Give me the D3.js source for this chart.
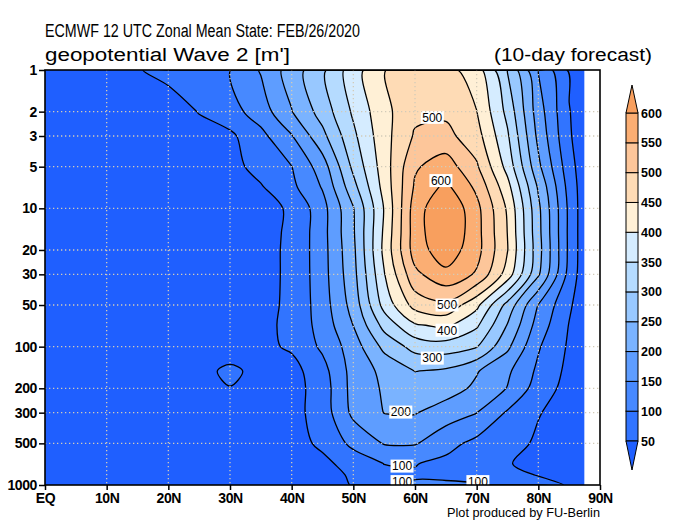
<!DOCTYPE html>
<html>
<head>
<meta charset="utf-8">
<script src="https://cdn.jsdelivr.net/npm/d3@7"></script>
<style>
  body { margin: 0; background: #fff; }
  text { font-family: "Liberation Sans", Arial, sans-serif; }
</style>
</head>
<body>
<svg id="chart" width="680" height="525"></svg>
<script>
// grid columns (deg N) and rows (hPa)
const lats = [0, 5, 10, 15, 20, 25, 30, 35, 40, 45, 50, 55, 60, 65, 70, 75, 80, 85, 87.5];
const levels = [1, 2, 3, 5, 7, 10, 15, 20, 30, 50, 70, 100, 150, 200, 300, 500, 700, 850, 1000];

// wave 2 geopotential amplitude [m], one row per level
const amp = [
  [10, 23, 35, 47, 64, 82, 99, 154, 223, 290, 377, 448, 483, 467, 424, 297, 148, 43, 20],   // 1
  [8, 12, 16, 21, 27, 52, 81, 124, 198, 271, 358, 436, 488, 490, 451, 336, 174, 52, 25],    // 2
  [8, 12, 17, 22, 28, 33, 40, 86, 147, 236, 339, 432, 506, 515, 470, 357, 187, 55, 25],     // 3
  [8, 10, 13, 17, 22, 27, 34, 67, 99, 175, 312, 425, 544, 576, 507, 383, 212, 70, 20],      // 5
  [8, 11, 14, 19, 24, 30, 37, 46, 88, 154, 283, 418, 557, 612, 539, 417, 243, 81, 21],      // 7
  [8, 10, 13, 17, 22, 27, 33, 40, 54, 132, 247, 403, 575, 649, 565, 443, 261, 89, 19],      // 10
  [8, 10, 13, 17, 22, 27, 33, 40, 55, 132, 244, 409, 575, 651, 568, 449, 265, 89, 19],      // 15
  [8, 10, 13, 17, 21, 26, 31, 38, 57, 131, 239, 413, 574, 631, 568, 452, 269, 89, 19],      // 20
  [8, 10, 13, 17, 21, 26, 31, 38, 57, 130, 233, 397, 538, 587, 544, 428, 257, 82, 20],      // 30
  [8, 10, 13, 17, 21, 26, 31, 38, 58, 126, 219, 368, 469, 489, 413, 283, 148, 57, 22],      // 50
  [8, 10, 13, 17, 21, 26, 31, 38, 61, 120, 201, 317, 394, 411, 358, 247, 128, 48, 25],      // 70
  [8, 10, 13, 17, 21, 26, 31, 38, 57, 109, 175, 263, 318, 326, 303, 210, 105, 43, 25],      // 100
  [8, 10, 13, 17, 21, 40, 57, 40, 32, 82, 169, 213, 251, 242, 204, 159, 90, 37, 25],        // 150
  [8, 10, 13, 17, 21, 26, 49, 38, 30, 74, 168, 206, 227, 223, 190, 148, 77, 32, 22],        // 200
  [8, 10, 13, 17, 21, 26, 31, 35, 32, 73, 162, 201, 203, 175, 151, 94, 52, 35, 25],         // 300
  [8, 10, 13, 17, 21, 26, 31, 35, 30, 60, 113, 153, 154, 117, 86, 65, 44, 32, 25],          // 500
  [8, 10, 13, 17, 21, 26, 31, 35, 30, 38, 70, 101, 102, 88, 70, 53, 35, 30, 25],            // 700
  [8, 10, 13, 17, 21, 26, 31, 35, 30, 36, 55, 88, 95, 93, 85, 68, 48, 35, 25],              // 850
  [8, 10, 13, 17, 21, 26, 31, 35, 30, 35, 52, 92, 106, 106, 104, 92, 72, 45, 30]            // 1000
];

const thresholds = [50, 100, 150, 200, 250, 300, 350, 400, 450, 500, 550, 600];
const bandColors = ["#1f5fff", "#3174ff", "#4789ff", "#5e9dff", "#7ab3ff", "#98c8ff",
                    "#b5dbff", "#d5ecff", "#fff0d6", "#fedbb5", "#fdc69a", "#fbae73", "#f89f5e"];

const yTicks = [1, 2, 3, 5, 10, 20, 30, 50, 100, 200, 300, 500, 1000];
const xTicks = [0, 10, 20, 30, 40, 50, 60, 70, 80, 90];
const gridLevels = [2, 3, 5, 10, 20, 30, 50, 100, 200, 300, 500];

// contour labels: [lat, hPa, text]
const labels = [
  [62.8, 2.2, "500"], [64.2, 6.3, "600"], [65.2, 50, "500"], [65.2, 76, "400"],
  [62.8, 121, "300"], [57.7, 297, "200"], [57.9, 730, "100"], [57.9, 945, "100"],
  [70.2, 945, "100"]
];

const svg = d3.select("#chart");

const x = d3.scaleLinear().domain([0, 90]).range([45, 600]);
const y = d3.scaleLog().domain([1, 1000]).range([70, 485]);

const x0 = x(0), x1 = x(d3.max(lats)), y0 = y(1), y1 = y(1000);

svg.append("defs").append("clipPath").attr("id", "clip")
  .append("rect").attr("x", x0).attr("y", y0).attr("width", x1 - x0).attr("height", y1 - y0);

// grid index -> screen
function gx(c) {
  let u = Math.max(0, Math.min(lats.length - 1, c - 0.5));
  let i = Math.min(Math.floor(u), lats.length - 2), f = u - i;
  return x(lats[i] + f * (lats[i + 1] - lats[i]));
}
function gy(c) {
  let u = Math.max(0, Math.min(levels.length - 1, c - 0.5));
  let i = Math.min(Math.floor(u), levels.length - 2), f = u - i;
  return y(levels[i]) + f * (y(levels[i + 1]) - y(levels[i]));
}

const contours = d3.contours()
  .size([lats.length, levels.length])
  .thresholds(thresholds)(amp.flat());

const ringLine = d3.line().curve(d3.curveCatmullRomClosed.alpha(0.5));

function pathOf(mp) {
  return mp.coordinates.map(poly => poly.map(ring => {
    let pts = [];
    ring.slice(0, -1).forEach(p => {
      let q = [gx(p[0]), gy(p[1])];
      let last = pts[pts.length - 1];
      if (!last || Math.abs(last[0] - q[0]) > 0.01 || Math.abs(last[1] - q[1]) > 0.01) pts.push(q);
    });
    return pts.length > 2 ? ringLine(pts) : "";
  }).join("")).join("");
}

const plot = svg.append("g").attr("clip-path", "url(#clip)");

plot.append("rect")
  .attr("x", x0).attr("y", y0).attr("width", x1 - x0).attr("height", y1 - y0)
  .attr("fill", bandColors[0]);

plot.selectAll("path.band")
  .data(contours)
  .join("path")
  .attr("class", "band")
  .attr("d", d => pathOf(d))
  .attr("fill", (d, i) => bandColors[i + 1]);

// dotted grid
const grid = svg.append("g")
  .attr("stroke", "#d2cbb9")
  .attr("stroke-width", 1.3)
  .attr("stroke-dasharray", "1.3,2.7");

grid.selectAll("line.v")
  .data(xTicks.slice(1, -1))
  .join("line")
  .attr("x1", d => x(d)).attr("x2", d => x(d))
  .attr("y1", y0).attr("y2", y1);

grid.selectAll("line.h")
  .data(gridLevels)
  .join("line")
  .attr("x1", x(0)).attr("x2", x(90))
  .attr("y1", d => y(d)).attr("y2", d => y(d));

// contour lines
plot.selectAll("path.iso")
  .data(contours)
  .join("path")
  .attr("class", "iso")
  .attr("d", d => pathOf(d))
  .attr("fill", "none")
  .attr("stroke", "#000")
  .attr("stroke-width", 1.3);

// contour labels
const lab = plot.selectAll("g.lab")
  .data(labels)
  .join("g")
  .attr("class", "lab")
  .attr("transform", d => `translate(${x(d[0])},${y(d[1])})`);
lab.append("rect")
  .attr("x", -11.5).attr("y", -6.5).attr("width", 23).attr("height", 13)
  .attr("fill", "#fff");
lab.append("text")
  .attr("text-anchor", "middle")
  .attr("dy", "0.36em")
  .attr("font-size", 12)
  .text(d => d[2]);

// frame
svg.append("rect")
  .attr("x", x(0)).attr("y", y0).attr("width", x(90) - x(0)).attr("height", y1 - y0)
  .attr("fill", "none").attr("stroke", "#000").attr("stroke-width", 1.6);

// axes
const yAxis = svg.append("g")
  .attr("transform", `translate(${x(0)},0)`)
  .call(d3.axisLeft(y).tickValues(yTicks).tickFormat(d3.format("d")).tickSize(6).tickPadding(2));
const xAxis = svg.append("g")
  .attr("transform", `translate(0,${y1})`)
  .call(d3.axisBottom(x).tickValues(xTicks).tickFormat(d => d === 0 ? "EQ" : d + "N").tickSize(5).tickPadding(3));
[yAxis, xAxis].forEach(a => {
  a.select(".domain").remove();
  a.selectAll(".tick line").attr("stroke", "#000").attr("stroke-width", 1.5);
  a.selectAll("text")
    .attr("fill", "#000")
    .attr("font-family", "'Liberation Sans', Arial, sans-serif")
    .attr("font-weight", "bold")
    .attr("font-size", 14)
    .attr("letter-spacing", "-0.4");
});

// colour bar
const cb = d3.scaleLinear().domain([50, 600]).range([441, 113]);
const cbX = 626, cbW = 12;
const cbar = svg.append("g");
cbar.selectAll("rect")
  .data(d3.pairs(thresholds))
  .join("rect")
  .attr("x", cbX).attr("width", cbW)
  .attr("y", d => cb(d[1])).attr("height", d => cb(d[0]) - cb(d[1]))
  .attr("fill", (d, i) => bandColors[i + 1])
  .attr("stroke", "#000").attr("stroke-width", 1);
cbar.append("path")
  .attr("d", `M${cbX},${cb(600)}L${cbX + cbW},${cb(600)}L${cbX + cbW / 2},${cb(600) - 28}Z`)
  .attr("fill", bandColors[12]).attr("stroke", "#000").attr("stroke-width", 1);
cbar.append("path")
  .attr("d", `M${cbX},${cb(50)}L${cbX + cbW},${cb(50)}L${cbX + cbW / 2},${cb(50) + 29}Z`)
  .attr("fill", bandColors[0]).attr("stroke", "#000").attr("stroke-width", 1);
cbar.selectAll("text")
  .data(thresholds)
  .join("text")
  .attr("x", cbX + cbW + 3)
  .attr("y", d => cb(d))
  .attr("dy", "0.36em")
  .attr("font-size", 12.5)
  .attr("font-weight", "bold")
  .text(d => d);

// titles
svg.append("text")
  .attr("x", 45).attr("y", 37)
  .attr("font-size", 18)
  .attr("textLength", 315).attr("lengthAdjust", "spacingAndGlyphs")
  .text("ECMWF 12 UTC Zonal Mean State: FEB/26/2020");
svg.append("text")
  .attr("x", 45).attr("y", 61)
  .attr("font-size", 18)
  .attr("textLength", 245).attr("lengthAdjust", "spacingAndGlyphs")
  .text("geopotential Wave 2 [m']");
svg.append("text")
  .attr("x", 494).attr("y", 61)
  .attr("font-size", 18)
  .attr("textLength", 158).attr("lengthAdjust", "spacingAndGlyphs")
  .text("(10-day forecast)");
svg.append("text")
  .attr("x", 447).attr("y", 517)
  .attr("font-size", 12)
  .attr("textLength", 153).attr("lengthAdjust", "spacingAndGlyphs")
  .text("Plot produced by FU-Berlin");
</script>
</body>
</html>
